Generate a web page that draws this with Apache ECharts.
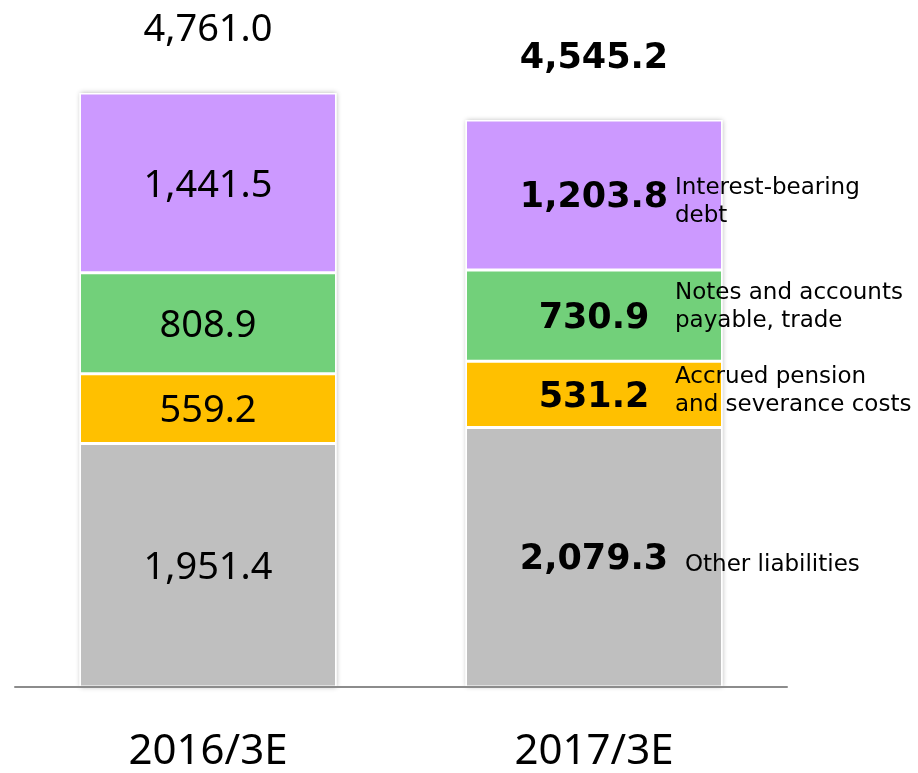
<!DOCTYPE html>
<html>
<head>
<meta charset="utf-8">
<script src="https://cdn.jsdelivr.net/npm/echarts@6/dist/echarts.min.js"></script>
<style>
  html, body { margin: 0; padding: 0; background: #fff; }
  #main { width: 918px; height: 773px; }
</style>
</head>
<body>
<div id="main"></div>
<script>
// data
var categories = ['2016/3E', '2017/3E'];
var otherLiab = [1951.4, 2079.3];
var accrued = [559.2, 531.2];
var notes = [808.9, 730.9];
var debt = [1441.5, 1203.8];
var totals = [4761.0, 4545.2];
var seriesNames = ['Other liabilities', 'Accrued pension\nand severance costs',
                   'Notes and accounts\npayable, trade', 'Interest-bearing\ndebt'];

function fmt(v) {
    return v.toLocaleString('en-US', {minimumFractionDigits: 1, maximumFractionDigits: 1});
}

var colors = ['#bfbfbf', '#ffc000', '#72d07a', '#cc99ff'];
var valueSets = [otherLiab, accrued, notes, debt];

// 2016 labels thin, 2017 labels bold
function makeData(arr) {
    return arr.map(function (v, i) {
        return {
            value: v,
            label: i === 0
                ? {fontFamily: 'Noto Sans', fontWeight: 'normal', fontSize: 38}
                : {fontFamily: 'DejaVu Sans', fontWeight: 'bold', fontSize: 35}
        };
    });
}

// white backdrop under each column, carries the soft shadow
var series = [{
    name: 'backdrop',
    type: 'bar',
    barWidth: 257,
    barGap: '-100%',
    silent: true,
    z: 1,
    data: totals,
    itemStyle: {
        color: '#fff',
        shadowColor: 'rgba(0,0,0,0.3)',
        shadowBlur: 5
    }
}];

valueSets.forEach(function (arr, k) {
    series.push({
        name: seriesNames[k],
        type: 'bar',
        stack: 'total',
        barWidth: 257,
        barGap: '-100%',
        z: 2,
        data: makeData(arr),
        itemStyle: {
            color: colors[k],
            borderColor: '#fff',
            borderWidth: 1.5
        },
        label: {
            show: true,
            position: 'inside',
            offset: [0, 3],
            color: '#000',
            formatter: function (p) { return fmt(p.value); }
        }
    });
});

// totals on top of stack
series.push({
    name: 'Total',
    type: 'bar',
    stack: 'total',
    barWidth: 257,
    barGap: '-100%',
    z: 2,
    data: makeData([0, 0]),
    itemStyle: {color: 'transparent'},
    label: {
        show: true,
        position: 'top',
        distance: 44,
        color: '#000',
        formatter: function (p) { return fmt(totals[p.dataIndex]); }
    }
});

var option = {
    backgroundColor: '#fff',
    animation: false,
    grid: {
        left: 15,
        right: 131,
        top: 93,
        bottom: 81
    },
    xAxis: {
        type: 'category',
        data: categories,
        z: 5,
        axisLine: {lineStyle: {color: '#8c8c8c', width: 2}},
        axisTick: {show: false},
        axisLabel: {
            margin: 44,
            fontSize: 42,
            color: '#000',
            fontFamily: 'Noto Sans'
        }
    },
    yAxis: {
        type: 'value',
        min: 0,
        max: 4761,
        show: false,
        splitLine: {show: false}
    },
    series: series
};

var chart = echarts.init(document.getElementById('main'));
chart.setOption(option);

// series names to the right of the 2017 bar
var nameOffsets = [8, -3, -9, 7];
var nameShiftX = [10, 0, 0, 0];
var graphics = [];
var cum = 0;
var xName = chart.convertToPixel({xAxisIndex: 0}, categories[1]) + 81;
valueSets.forEach(function (arr, k) {
    var mid = cum + arr[1] / 2;
    cum += arr[1];
    var y = chart.convertToPixel({yAxisIndex: 0}, mid) + nameOffsets[k];
    graphics.push({
        type: 'text',
        left: xName + nameShiftX[k],
        top: y - (seriesNames[k].indexOf('\n') >= 0 ? 28 : 14),
        z: 100,
        style: {
            text: seriesNames[k],
            font: '23px "DejaVu Sans"',
            fill: '#000',
            lineHeight: 28
        }
    });
});
chart.setOption({graphic: graphics});
</script>
</body>
</html>
